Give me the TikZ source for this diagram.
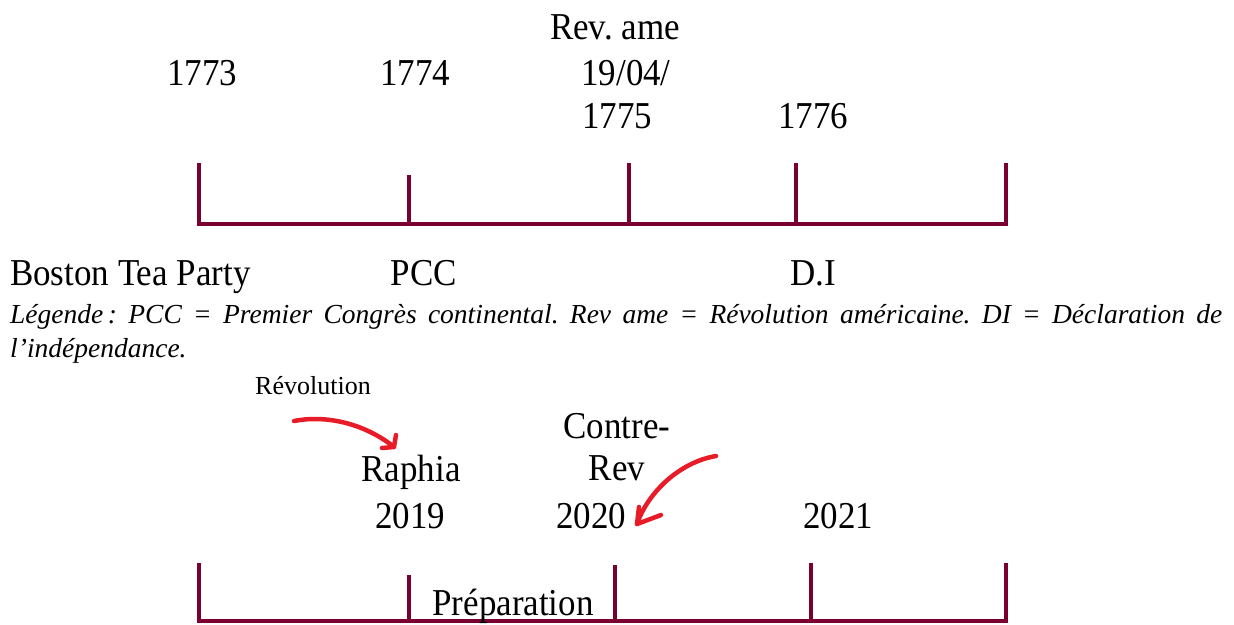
\documentclass[tikz,border=0pt]{standalone}
\usepackage{fontspec}
\setmainfont{Liberation Serif}
\newfontfamily\condfont[FakeStretch=0.92]{Liberation Serif}
\frenchspacing
\begin{document}
\begin{tikzpicture}[x=1pt,y=-1pt,
  lbl/.style={anchor=base,inner sep=0pt,font=\condfont\fontsize{38}{42}\selectfont},
  leg/.style={anchor=base west,inner sep=0pt,font=\fontsize{27.5}{30}\selectfont\itshape},
  small/.style={anchor=base,inner sep=0pt,font=\fontsize{26}{30}\selectfont},
  tl/.style={line width=4pt,color=tlcol},
  redarrow/.style={line width=4.5pt,color=redcol,line cap=round,line join=round}]
\definecolor{tlcol}{RGB}{122,0,50}
\definecolor{redcol}{RGB}{232,28,40}
\useasboundingbox (0,0) rectangle (1234,624);
% top timeline
\coordinate (t1) at (199,224); \coordinate (t2) at (409,224); \coordinate (t3) at (629,224);
\coordinate (t4) at (796,224); \coordinate (t5) at (1006,224);
\coordinate (t1h) at (199,163); \coordinate (t2h) at (409,175); \coordinate (t3h) at (629,163);
\coordinate (t4h) at (796,163); \coordinate (t5h) at (1006,163);
\draw[tl] (t1h) -- (t1) -- (t5) -- (t5h);
\draw[tl] (t2h) -- (t2);
\draw[tl] (t3h) -- (t3);
\draw[tl] (t4h) -- (t4);
\node[lbl] (y1773) at (202,85) {1773};
\node[lbl] (y1774) at (415,85) {1774};
\node[lbl] (revame) at (615,39) {Rev. ame};
\node[lbl] (d1904) at (626,85) {19/04/};
\node[lbl] (y1775) at (617,128) {1775};
\node[lbl] (y1776) at (813,128) {1776};
\node[lbl,anchor=base west] (btp) at (10,285) {Boston Tea Party};
\node[lbl] (pcc) at (424,285) {PCC};
\node[lbl] (di) at (813,285) {D.I};
\node[leg] (leg1) at (10,323) {\makebox[1212pt][s]{Légende\,: PCC = Premier Congrès continental. Rev ame = Révolution américaine. DI = Déclaration de}};
\node[leg] (leg2) at (10,357) {l’indépendance.};
% bottom timeline
\coordinate (b1) at (199,621); \coordinate (b2) at (409,621); \coordinate (b3) at (615,621);
\coordinate (b4) at (811,621); \coordinate (b5) at (1006,621);
\coordinate (b1h) at (199,563); \coordinate (b2h) at (409,575); \coordinate (b3h) at (615,565);
\coordinate (b4h) at (811,563); \coordinate (b5h) at (1006,563);
\draw[tl] (b1h) -- (b1) -- (b5) -- (b5h);
\draw[tl] (b2h) -- (b2);
\draw[tl] (b3h) -- (b3);
\draw[tl] (b4h) -- (b4);
\node[small] (revol) at (313,394) {Révolution};
\node[lbl] (contre) at (617,438) {Contre-};
\node[lbl] (rev) at (617,480) {Rev};
\node[lbl] (raphia) at (411,481) {Raphia};
\node[lbl] (y2019) at (410,528) {2019};
\node[lbl] (y2020) at (591,528) {2020};
\node[lbl] (y2021) at (838,528) {2021};
\node[lbl] (prep) at (513,615) {Préparation};
% red arrows
\coordinate (a1s) at (294,421); \coordinate (a1t) at (394,447);
\draw[redarrow] (a1s) .. controls (330,414) and (368,426) .. (a1t);
\draw[redarrow] (382,448) -- (a1t) -- (396,435);
\coordinate (a2s) at (716,456); \coordinate (a2t) at (637,524);
\draw[redarrow] (a2s) .. controls (680,462) and (648,492) .. (a2t);
\draw[redarrow] (661,515) -- (a2t) -- (639,507);
\end{tikzpicture}
\end{document}
